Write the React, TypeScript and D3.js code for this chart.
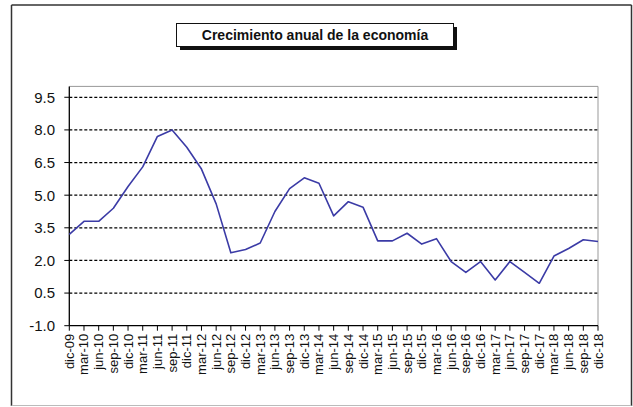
import React from "react";
import * as d3 from "d3";

const categories = [
  "dic-09","mar-10","jun-10","sep-10","dic-10","mar-11","jun-11","sep-11","dic-11",
  "mar-12","jun-12","sep-12","dic-12","mar-13","jun-13","sep-13","dic-13",
  "mar-14","jun-14","sep-14","dic-14","mar-15","jun-15","sep-15","dic-15",
  "mar-16","jun-16","sep-16","dic-16","mar-17","jun-17","sep-17","dic-17",
  "mar-18","jun-18","sep-18","dic-18",
];
const growth = [
  3.2, 3.8, 3.8, 4.4, 5.4, 6.3, 7.7, 8.0, 7.2,
  6.2, 4.6, 2.35, 2.5, 2.8, 4.25, 5.3, 5.8,
  5.55, 4.05, 4.7, 4.45, 2.9, 2.9, 3.25, 2.75,
  3.0, 1.95, 1.45, 1.95, 1.1, 1.95, 1.45, 0.95,
  2.2, 2.55, 2.95, 2.87,
];
const yTicks = [-1.0, 0.5, 2.0, 3.5, 5.0, 6.5, 8.0, 9.5];
const title = "Crecimiento anual de la economía";

export default function App() {
  const W = 633, H = 407;
  const left = 69.3, right = 598, top = 86.4, bottom = 325.7;
  const x = d3.scalePoint<string>().domain(categories).range([left, right]);
  const y = d3.scaleLinear().domain([-1, 10]).range([bottom, top]);
  const line = d3.line<number>()
    .x((_, i) => x(categories[i]) as number)
    .y((d) => y(d));
  const font = "Arial, 'Liberation Sans', sans-serif";
  return (
    <svg width={W} height={H} style={{ position: "absolute", left: 0, top: 0 }}>
      <rect x={0} y={0} width={W} height={H} fill="#fff" />
      {/* outer frame */}
      <line x1={11.5} y1={5} x2={631.5} y2={5} stroke="#333" strokeWidth={1.5} />
      <line x1={11.5} y1={5} x2={11.5} y2={406} stroke="#333" strokeWidth={1.5} />
      <line x1={631.5} y1={5} x2={631.5} y2={406} stroke="#333" strokeWidth={1.5} />
      <line x1={11.5} y1={405.5} x2={631.5} y2={405.5} stroke="#bbb" strokeWidth={1} />
      {/* title box */}
      <rect x={180} y={27} width={277} height={23} fill="#111" />
      <rect x={176.5} y={23.5} width={277} height={23} fill="#fff" stroke="#111" strokeWidth={1} />
      <text x={315} y={40} textAnchor="middle" fontFamily={font} fontWeight="bold" fontSize={14} fill="#111">
        {title}
      </text>
      {/* plot frame */}
      <line x1={left} y1={top} x2={right} y2={top} stroke="#999" strokeWidth={1} />
      <line x1={right} y1={top} x2={right} y2={bottom} stroke="#999" strokeWidth={1} />
      {/* grid */}
      {yTicks.filter((t) => t > -1).map((t) => (
        <line key={t} x1={left} x2={right} y1={y(t)} y2={y(t)} stroke="#000" strokeWidth={1.2} strokeDasharray="3,2" />
      ))}
      {/* y axis */}
      <line x1={left} y1={top} x2={left} y2={bottom} stroke="#000" strokeWidth={1.3} />
      {yTicks.map((t) => (
        <g key={t}>
          <line x1={left - 5} x2={left} y1={y(t)} y2={y(t)} stroke="#000" strokeWidth={1} />
          <text x={55} y={y(t)} dy="0.36em" textAnchor="end" fontFamily={font} fontSize={15} fill="#111">
            {t.toFixed(1)}
          </text>
        </g>
      ))}
      {/* x axis */}
      <line x1={left} y1={bottom} x2={right} y2={bottom} stroke="#000" strokeWidth={1.3} />
      {categories.map((c) => (
        <g key={c}>
          <line x1={x(c)} x2={x(c)} y1={bottom} y2={bottom + 5} stroke="#000" strokeWidth={1} />
          <text
            transform={`translate(${(x(c) as number) + 4.5},${bottom + 8}) rotate(-90)`}
            textAnchor="end"
            fontFamily={font}
            fontSize={13}
            fill="#111"
          >
            {c}
          </text>
        </g>
      ))}
      {/* series */}
      <path d={line(growth) || ""} fill="none" stroke="#3b3ba6" strokeWidth={1.6} strokeLinejoin="round" />
    </svg>
  );
}
